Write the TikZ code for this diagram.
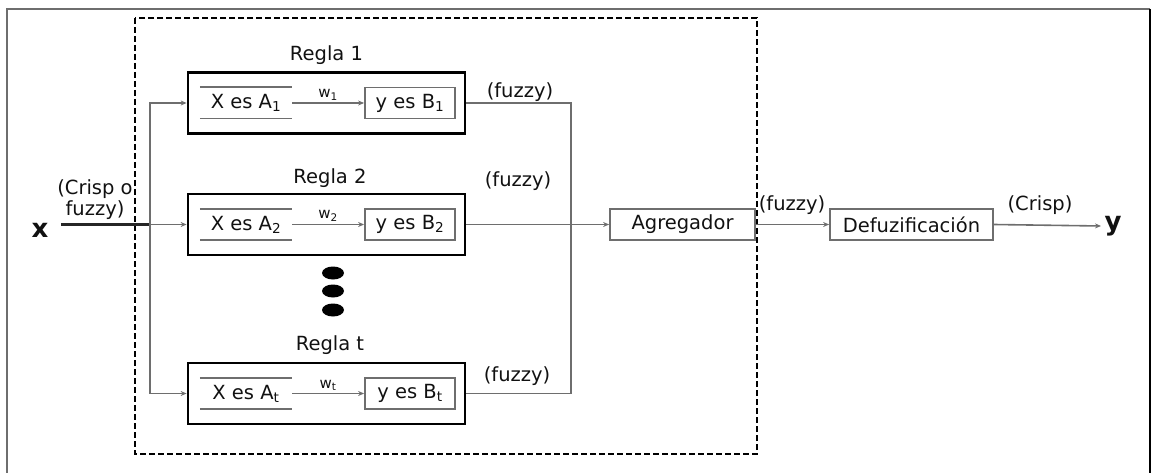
\documentclass[tikz,border=0pt]{standalone}
\usepackage{fontspec}
\setmainfont{DejaVu Sans}
\usetikzlibrary{arrows.meta}
\definecolor{ln}{HTML}{6E6E6E}
\definecolor{tx}{HTML}{111111}
\newcommand\fsmain{\fontsize{19.5}{21}\selectfont}
\newcommand\fsw{\fontsize{15}{16}\selectfont}
\newcommand\fsbig{\fontsize{26}{27}\selectfont\bfseries}
\begin{document}
\begin{tikzpicture}[x=1pt,y=-1pt,
  every node/.style={text=tx, font=\fsmain},
  conn/.style={draw=ln, line width=1.6pt},
  arr/.style={conn, -{Stealth[length=6pt,width=5pt]}},
  rulebox/.style={draw=black, line width=2.8pt, minimum width=277pt, minimum height=61pt, inner sep=0pt},
  gbox/.style={draw=ln, line width=1.8pt, minimum height=31pt, inner sep=0pt},
  xlab/.style={minimum width=92pt, minimum height=31pt, inner sep=0pt},
  title/.style={font=\fsmain},
  lab/.style={font=\fsmain},
  wlab/.style={font=\fsw, above, inner sep=2pt},
  frame/.style={line width=2pt}
]
\useasboundingbox (0,0) rectangle (1151,473);
% outer frame
\draw[frame, draw=ln] (7,473) -- (7,9) -- (1150,9);
\draw[frame, draw=black, line width=2.5pt] (1150,9) -- (1150,473);
% dashed group
\draw[black, line width=2.8pt, dash pattern=on 6pt off 3pt] (135,18) rectangle (757,454);

% rule boxes
\node[rulebox] (r1) at (326.5,103) {};
\node[rulebox] (r2) at (326.5,224.5) {};
\node[rulebox] (rt) at (326.5,393.5) {};
\node[title] (t1) at (326.5,55) {Regla 1};
\node[title] (t2) at (330,178) {Regla 2};
\node[title] (tt) at (330,345) {Regla t};

% rule 1 content
\node[xlab] (x1) at (246,103) {X es A\textsubscript{1}};
\draw[conn] (x1.north west) -- (x1.north east);
\draw[conn] (x1.south west) -- (x1.south east);
\node[gbox, minimum width=90pt] (y1) at (410,103) {y es B\textsubscript{1}};
\draw[arr] (x1.east) -- (y1.west) node[midway, wlab] {w\textsubscript{1}};

% rule 2 content
\node[xlab] (x2) at (246,224.5) {X es A\textsubscript{2}};
\draw[conn] (x2.north west) -- (x2.north east);
\draw[conn] (x2.south west) -- (x2.south east);
\node[gbox, minimum width=90pt] (y2) at (410,224.5) {y es B\textsubscript{2}};
\draw[arr] (x2.east) -- (y2.west) node[midway, wlab] {w\textsubscript{2}};

% rule t content
\node[xlab] (xt) at (246,393.5) {X es A\textsubscript{t}};
\draw[conn] (xt.north west) -- (xt.north east);
\draw[conn] (xt.south west) -- (xt.south east);
\node[gbox, minimum width=90pt] (yt) at (410,393.5) {y es B\textsubscript{t}};
\draw[arr] (xt.east) -- (yt.west) node[midway, wlab] {w\textsubscript{t}};

% dots
\fill[black] (333,273) ellipse [x radius=11pt, y radius=6.5pt];
\fill[black] (333,291) ellipse [x radius=11pt, y radius=6.5pt];
\fill[black] (333,310) ellipse [x radius=11pt, y radius=6.5pt];

% input
\node[font=\fsbig] (xin) at (40,230) {x};
\node[lab, align=center] (inlab) at (95,200) {(Crisp o\\fuzzy)};
\coordinate (split) at (150,224.5);
\draw[draw=black!85, line width=2.2pt] ([xshift=9pt]xin.east |- split) -- (split);
\draw[arr] (split) -- (r2.west);
\draw[arr] (split) |- (r1.west);
\draw[arr] (split) |- (rt.west);

% aggregation
\node[gbox, minimum width=145pt] (ag) at (682.5,224.5) {Agregador};
\node[gbox, minimum width=163pt] (df) at (911.5,224.5) {Defuzificación};
\coordinate (cj) at (571,224.5);
\draw[conn] (r1.east) -| (cj);
\draw[conn] (rt.east) -| (cj);
\draw[arr] (r2.east) -- (ag.west);
\node[lab] (f1) at (520,92) {(fuzzy)};
\node[lab] (f2) at (518,181) {(fuzzy)};
\node[lab] (ft) at (517,376) {(fuzzy)};

\draw[arr] (ag.east) -- (df.west);
\node[lab] (f4) at (792,205) {(fuzzy)};

\node[font=\fsbig] (yout) at (1113,226) {y};
\draw[arr] (df.east) -- (yout.west);
\node[lab] (cr) at (1040,205) {(Crisp)};
\end{tikzpicture}
\end{document}
